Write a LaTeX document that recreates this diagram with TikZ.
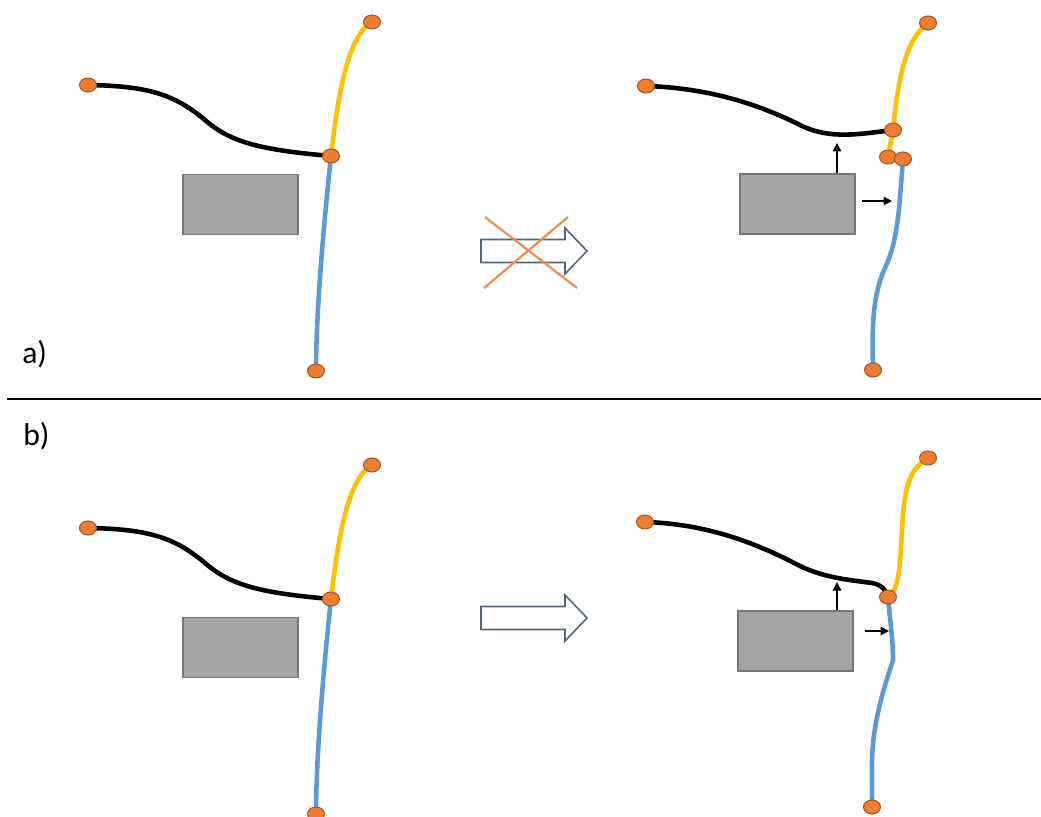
\documentclass[tikz,border=0pt]{standalone}
\usepackage{fontspec}
\setmainfont{Carlito}
\usetikzlibrary{arrows.meta,shapes.geometric,backgrounds}
\definecolor{dotfill}{HTML}{ED7D31}
\definecolor{dotline}{HTML}{A9561F}
\definecolor{wireY}{HTML}{FFC000}
\definecolor{wireB}{HTML}{5B9BD5}
\definecolor{boxfill}{HTML}{A5A5A5}
\definecolor{boxline}{HTML}{767676}
\definecolor{arrline}{HTML}{56637B}
\definecolor{crossc}{HTML}{F0894A}

\tikzset{
  dot/.style={ellipse,fill=dotfill,draw=dotline,line width=0.6pt,
    minimum width=0.34cm,minimum height=0.28cm,inner sep=0pt},
  wire/.style={line width=2.6pt},
  obstacle/.style={rectangle,draw=boxline,fill=boxfill,line width=0.7pt,
    minimum width=2.3cm,minimum height=1.2cm,inner sep=0pt},
  push/.style={line width=0.7pt,-{Triangle[length=0.17cm,width=0.17cm]}},
  bigarrow/.style={draw=arrline,fill=white,line width=0.9pt},
  label/.style={anchor=base west,inner sep=0pt,font=\fontsize{18}{20}\selectfont},
  % initial layout: three wires meeting at one junction beside an obstacle
  leftpanel/.pic={
    \node[obstacle] (-box) at (240.5,204.5) {};
    \node[dot] (-w) at (88,85) {};
    \node[dot] (-t) at (372,22) {};
    \node[dot] (-b) at (316,371) {};
    \node[dot] (-j) at (331,156) {};
    \begin{scope}[on background layer]
      \draw[wire,black] (-w.center) .. controls (150,86) and (175,95) .. (205,120)
        .. controls (230,142) and (260,150) .. (-j.center);
      \draw[wire,wireY] (-j.center) .. controls (338,95) and (348,35) .. (-t.center);
      \draw[wire,wireB] (-j.center) .. controls (322,240) and (316,320) .. (-b.center);
    \end{scope}
  }
}

\begin{document}
\begin{tikzpicture}[x=0.02cm,y=-0.02cm]
\useasboundingbox (0,0) rectangle (1041,817);

% ---------- a) ----------
\pic (A) at (0,0) {leftpanel};

\draw[bigarrow] (481,239.5) -- (565,239.5) -- (565,228) -- (587,251)
  -- (565,274) -- (565,262.5) -- (481,262.5) -- cycle;
\draw[crossc,line width=1.2pt] (485,217) -- (577,288);
\draw[crossc,line width=1.2pt] (568,217) -- (484,288);

\node[obstacle] (Rbox) at (797.5,204) {};
\node[dot] (Rw) at (646,86) {};
\node[dot] (Rt) at (928,23) {};
\node[dot] (Rj) at (893,130) {};
\node[dot] (Rs1) at (888,157) {};
\node[dot] (Rs2) at (903,159) {};
\node[dot] (Rb) at (873,370) {};
\coordinate (Rup) at (837,143);
\coordinate (Rfrom) at (862,201);
\coordinate (Rto) at (892,201);
\begin{scope}[on background layer]
  \draw[wire,black] (Rw.center) .. controls (710,88) and (760,105) .. (800,125)
    .. controls (830,140) and (860,134) .. (Rj.center);
  \draw[wire,wireY] (Rj.center) .. controls (898,80) and (905,40) .. (Rt.center);
  \draw[wire,wireY] (Rj.center) -- (Rs1.center);
  \draw[wire,wireB] (Rs2.center) .. controls (899,210) and (898,240) .. (885,268)
    .. controls (872,296) and (872,330) .. (Rb.center);
\end{scope}
\draw[push] (837,0 |- Rbox.north) -- (Rup);
\draw[push] (Rfrom) -- (Rto);

\node[label] (la) at (22,364) {a)};

% divider
\coordinate (d1) at (7,399);
\coordinate (d2) at (1041,399);
\draw[line width=1.2pt] (d1) -- (d2);

\node[label] (lb) at (23,445) {b)};

% ---------- b) ----------
\pic (B) at (0,443) {leftpanel};

\draw[bigarrow] (481,606.5) -- (565,606.5) -- (565,595) -- (587,618)
  -- (565,641) -- (565,629.5) -- (481,629.5) -- cycle;

\node[obstacle] (Sbox) at (795.5,641) {};
\node[dot] (Sw) at (645,522) {};
\node[dot] (St) at (928,458) {};
\node[dot] (Sj) at (888,597) {};
\node[dot] (Sb) at (872,807) {};
\coordinate (Sup) at (837,582);
\coordinate (Sfrom) at (865,631);
\coordinate (Sto) at (889,631);
\begin{scope}[on background layer]
  \draw[wire,black] (Sw.center) .. controls (710,524) and (760,545) .. (800,566)
    .. controls (825,578) and (850,580) .. (872,583)
    .. controls (882,585) and (886,590) .. (Sj.center);
  \draw[wire,wireY] (Sj.center) .. controls (900,590) and (900,560) .. (902,530)
    .. controls (904,490) and (908,470) .. (St.center);
  \draw[wire,wireB] (Sj.center) .. controls (890,620) and (893,640) .. (893,660)
    .. controls (885,685) and (873,720) .. (872,760) -- (Sb.center);
\end{scope}
\draw[push] (837,0 |- Sbox.north) -- (Sup);
\draw[push] (Sfrom) -- (Sto);
\end{tikzpicture}
\end{document}
